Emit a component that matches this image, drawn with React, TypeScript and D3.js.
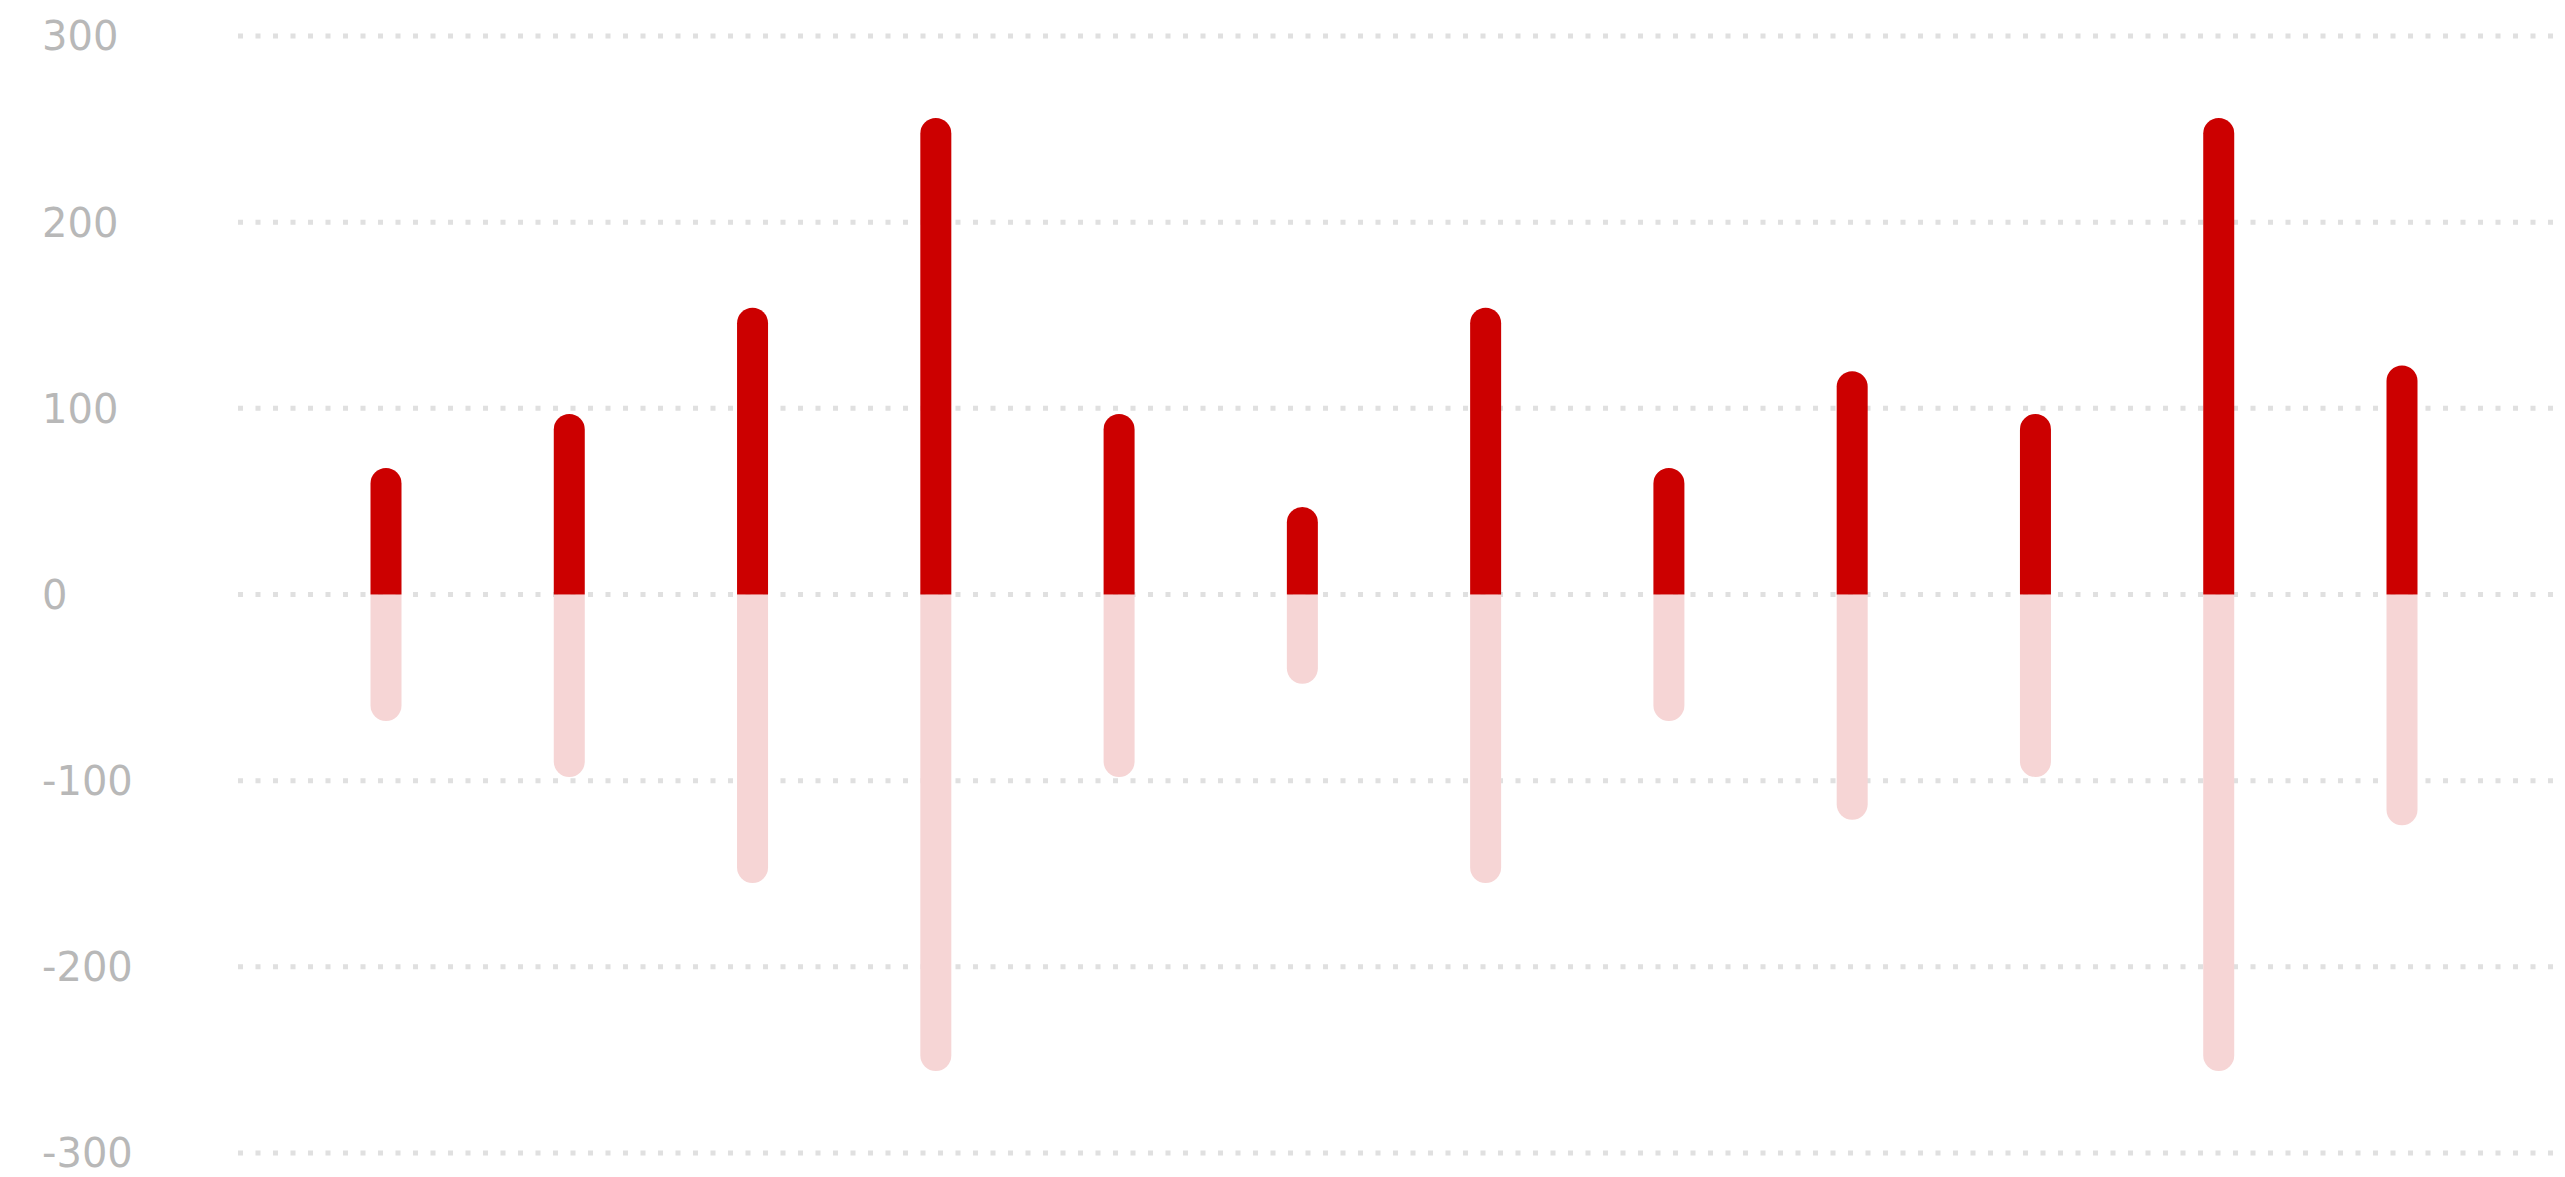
import React from "react";
import * as d3 from "d3";

const categories = ["1", "2", "3", "4", "5", "6", "7", "8", "9", "10", "11", "12"];
const positiveValues = [68, 97, 154, 256, 97, 47, 154, 68, 120, 97, 256, 123];
const negativeValues = [-68, -98, -155, -256, -98, -48, -155, -68, -121, -98, -256, -124];
const yTicks = [300, 200, 100, 0, -100, -200, -300];

const W = 2565;
const H = 1177;

export default function App() {
  const x = d3.scalePoint<string>().domain(categories).range([386, 2402]);
  const y = d3.scaleLinear().domain([-300, 300]).range([1153, 36]);
  const bw = 31;
  const r = bw / 2;

  const posPath = (cx: number, v: number) => {
    const x0 = cx - r, x1 = cx + r, y0 = y(0), yt = y(v);
    return `M${x0},${y0}V${yt + r}A${r},${r} 0 0 1 ${x1},${yt + r}V${y0}Z`;
  };
  const negPath = (cx: number, v: number) => {
    const x0 = cx - r, x1 = cx + r, y0 = y(0), yb = y(v);
    return `M${x0},${y0}V${yb - r}A${r},${r} 0 0 0 ${x1},${yb - r}V${y0}Z`;
  };

  return (
    <svg
      width={W}
      height={H}
      style={{ position: "fixed", left: 0, top: 0, background: "#fff" }}
    >
      <g>
        {yTicks.map((t) => (
          <g key={t}>
            <line
              x1={238}
              x2={W}
              y1={y(t)}
              y2={y(t)}
              stroke="#e0e0e0"
              strokeWidth={5}
              strokeDasharray="5 12.5"
            />
            <text
              x={42}
              y={y(t)}
              dy="0.36em"
              fill="#b8b8b8"
              fontFamily="'DejaVu Sans', sans-serif"
              fontSize={40}
            >
              {t}
            </text>
          </g>
        ))}
      </g>
      <g>
        {categories.map((c, i) => (
          <path key={"n" + c} d={negPath(x(c)!, negativeValues[i])} fill="#f6d5d5" />
        ))}
        {categories.map((c, i) => (
          <path key={"p" + c} d={posPath(x(c)!, positiveValues[i])} fill="#cc0000" />
        ))}
      </g>
    </svg>
  );
}
